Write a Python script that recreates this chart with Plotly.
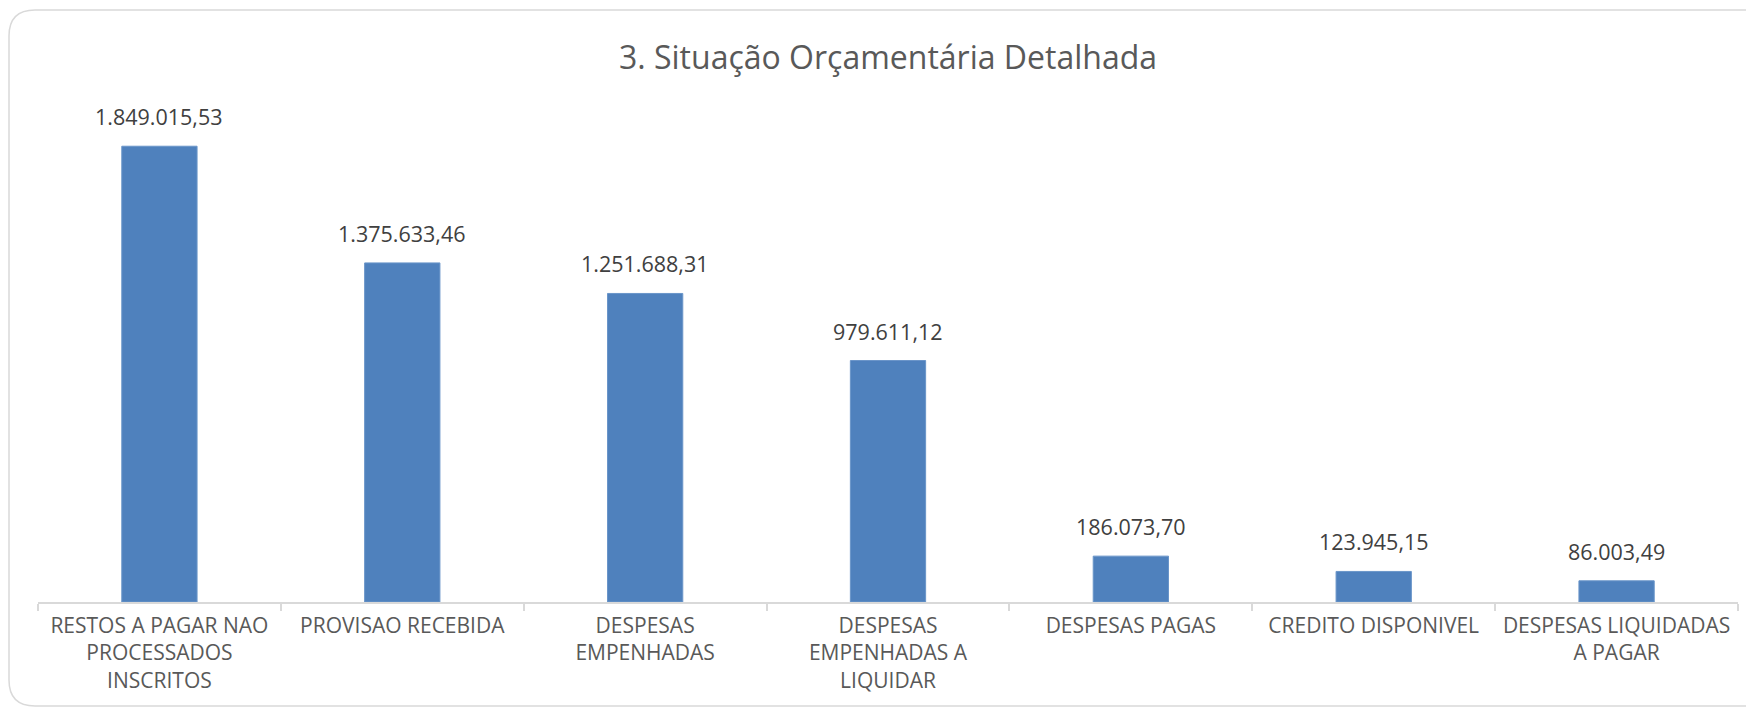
import plotly.graph_objects as go

categories = [
    "RESTOS A PAGAR NAO PROCESSADOS INSCRITOS",
    "PROVISAO RECEBIDA",
    "DESPESAS EMPENHADAS",
    "DESPESAS EMPENHADAS A LIQUIDAR",
    "DESPESAS PAGAS",
    "CREDITO DISPONIVEL",
    "DESPESAS LIQUIDADAS A PAGAR",
]
tick_labels = [
    "RESTOS A PAGAR NAO<br>PROCESSADOS<br>INSCRITOS",
    "PROVISAO RECEBIDA",
    "DESPESAS<br>EMPENHADAS",
    "DESPESAS<br>EMPENHADAS A<br>LIQUIDAR",
    "DESPESAS PAGAS",
    "CREDITO DISPONIVEL",
    "DESPESAS LIQUIDADAS<br>A PAGAR",
]
values = [1849015.53, 1375633.46, 1251688.31, 979611.12, 186073.70, 123945.15, 86003.49]
title_text = "3. Situação Orçamentária Detalhada"


def br_format(v):
    s = f"{v:,.2f}"
    return s.replace(",", "X").replace(".", ",").replace("X", ".")


W, H = 1746, 708
ML, MR, MT, MB = 38, 8, 109, 106
YMAX = 2000000
FONT = "Open Sans"

fig = go.Figure()
fig.add_trace(go.Bar(
    x=categories, y=values,
    marker=dict(color="#4f81bd", line=dict(color="#6a95c9", width=1)),
    hoverinfo="skip",
))

for c, v in zip(categories, values):
    fig.add_annotation(
        x=c, y=v, text=br_format(v), showarrow=False,
        yanchor="bottom", yshift=13,
        font=dict(family=FONT, size=21.5, color="#404040"),
    )

# rounded border (in paper coords of the plot area)
pw, ph = W - ML - MR, H - MT - MB
def px(x):
    return (x - ML) / pw
def py(y):
    return (H - MB - y) / ph
L, T, R, B, r = 9, 10, 1770, 706, 26
path = (
    f"M {px(L+r)},{py(T)} L {px(R-r)},{py(T)} Q {px(R)},{py(T)} {px(R)},{py(T+r)} "
    f"L {px(R)},{py(B-r)} Q {px(R)},{py(B)} {px(R-r)},{py(B)} "
    f"L {px(L+r)},{py(B)} Q {px(L)},{py(B)} {px(L)},{py(B-r)} "
    f"L {px(L)},{py(T+r)} Q {px(L)},{py(T)} {px(L+r)},{py(T)} Z"
)
fig.add_shape(type="path", path=path, xref="paper", yref="paper",
              line=dict(color="#d9d9d9", width=1.5), layer="below")

fig.update_layout(
    width=W, height=H,
    margin=dict(l=ML, r=MR, t=MT, b=MB),
    paper_bgcolor="white", plot_bgcolor="white",
    bargap=0.69,
    showlegend=False,
    title=dict(text=title_text, x=0.5, xref="paper", y=1 - 69 / H, yanchor="bottom",
               font=dict(family=FONT, size=32, color="#595959")),
    xaxis=dict(
        tickmode="array", tickvals=categories, ticktext=tick_labels,
        tickson="boundaries", ticks="outside", ticklen=7, tickcolor="#d9d9d9", tickwidth=1.5,
        showline=True, linecolor="#d9d9d9", linewidth=1.5,
        showgrid=False, zeroline=False,
        tickfont=dict(family=FONT, size=21, color="#595959"),
        tickangle=0, ticklabelstandoff=4,
    ),
    yaxis=dict(range=[0, YMAX], visible=False, showgrid=False, zeroline=False),
)

fig.write_html("out.html", post_script="document.body.style.margin='0';",
               config={"displayModeBar": False})
